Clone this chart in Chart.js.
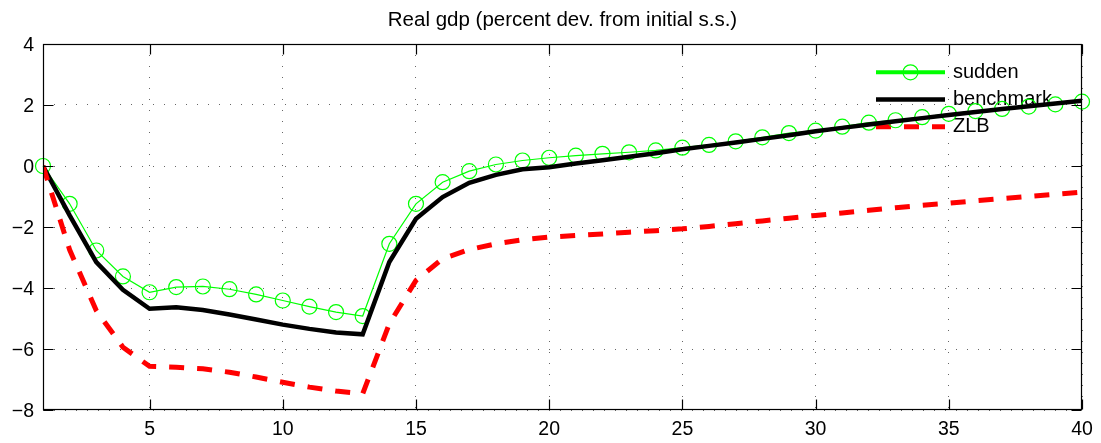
<!DOCTYPE html>
<html>
<head>
<meta charset="utf-8">
<title>Real gdp</title>
<script src="https://cdn.jsdelivr.net/npm/chart.js@4.4.1/dist/chart.umd.min.js"></script>
<style>
  html, body { margin: 0; padding: 0; background: #fff; }
  #wrap { width: 1101px; height: 443px; }
</style>
</head>
<body>
<div id="wrap"><canvas id="gdpChart" width="1101" height="443"></canvas></div>
<script>
// quarters after the shock
const periods = [1, 2, 3, 4, 5, 6, 7, 8, 9, 10, 11, 12, 13, 14, 15, 16, 17, 18, 19, 20,
  21, 22, 23, 24, 25, 26, 27, 28, 29, 30, 31, 32, 33, 34, 35, 36, 37, 38, 39, 40];

const sudden = [0, -1.24, -2.77, -3.62, -4.14, -3.97, -3.95, -4.04, -4.21, -4.41,
  -4.61, -4.79, -4.92, -2.55, -1.24, -0.53, -0.17, 0.05, 0.18, 0.27,
  0.34, 0.40, 0.45, 0.51, 0.60, 0.69, 0.81, 0.94, 1.08, 1.16,
  1.29, 1.42, 1.50, 1.60, 1.71, 1.80, 1.87, 1.95, 2.02, 2.11];

const benchmark = [0, -1.62, -3.15, -4.06, -4.68, -4.63, -4.72, -4.87, -5.03, -5.20,
  -5.34, -5.46, -5.52, -3.15, -1.73, -1.02, -0.55, -0.29, -0.11, -0.04,
  0.08, 0.19, 0.30, 0.42, 0.55, 0.66, 0.77, 0.89, 1.01, 1.14,
  1.25, 1.36, 1.47, 1.57, 1.67, 1.77, 1.87, 1.96, 2.05, 2.14];

const zlb = [0, -2.75, -4.74, -5.94, -6.57, -6.60, -6.65, -6.76, -6.92, -7.09,
  -7.25, -7.38, -7.47, -5.17, -3.75, -3.04, -2.74, -2.55, -2.42, -2.33,
  -2.28, -2.23, -2.17, -2.12, -2.06, -1.98, -1.89, -1.80, -1.71, -1.62,
  -1.54, -1.45, -1.37, -1.29, -1.22, -1.14, -1.07, -1.00, -0.93, -0.86];

const xTicks = [5, 10, 15, 20, 25, 30, 35, 40];
const yTicks = [-8, -6, -4, -2, 0, 2, 4];

const FONT = 'Liberation Sans, Arial, Helvetica, sans-serif';

function toPoints(values) {
  return periods.map((p, i) => ({ x: p, y: values[i] }));
}

// solid frame around the plot with inward tick marks on all four sides
const axesBox = {
  id: 'axesBox',
  afterDatasetsDraw(chart) {
    const { ctx, chartArea: a, scales: { x, y } } = chart;
    const L = Math.round(a.left) + 0.5, R = Math.round(a.right) - 0.5;
    const T = Math.round(a.top) + 0.5, B = Math.round(a.bottom) - 0.5;
    const len = 10;
    ctx.save();
    ctx.strokeStyle = '#000';
    ctx.lineWidth = 1.2;
    ctx.strokeRect(L, T, R - L, B - T);
    ctx.beginPath();
    xTicks.forEach(v => {
      const px = Math.round(x.getPixelForValue(v)) + 0.5;
      ctx.moveTo(px, B); ctx.lineTo(px, B - len);
      ctx.moveTo(px, T); ctx.lineTo(px, T + len);
    });
    yTicks.forEach(v => {
      const py = Math.round(y.getPixelForValue(v)) + 0.5;
      ctx.moveTo(L, py); ctx.lineTo(L + len, py);
      ctx.moveTo(R, py); ctx.lineTo(R - len, py);
    });
    ctx.stroke();
    ctx.restore();
  }
};

// legend: sample line (with marker) followed by the series name
const lineLegend = {
  id: 'lineLegend',
  beforeDatasetsDraw(chart) {
    const { ctx, chartArea: a } = chart;
    const x0 = a.right - 206, x1 = a.right - 137, tx = a.right - 129;
    ctx.save();
    chart.data.datasets.forEach((ds, i) => {
      const yy = a.top + 28.3 + i * 27.2;
      ctx.strokeStyle = ds.borderColor;
      ctx.lineWidth = Math.max(ds.borderWidth, 4);
      ctx.setLineDash(ds.borderDash || []);
      ctx.beginPath();
      ctx.moveTo(x0, yy);
      ctx.lineTo(x1, yy);
      ctx.stroke();
      ctx.setLineDash([]);
      if (ds.pointRadius > 0) {
        ctx.lineWidth = ds.pointBorderWidth;
        ctx.strokeStyle = ds.pointBorderColor;
        ctx.beginPath();
        ctx.arc((x0 + x1) / 2, yy, ds.pointRadius, 0, Math.PI * 2);
        ctx.stroke();
      }
      ctx.fillStyle = '#000';
      ctx.font = '20px ' + FONT;
      ctx.textAlign = 'left';
      ctx.textBaseline = 'middle';
      ctx.fillText(ds.label, tx, yy);
    });
    ctx.restore();
  }
};

const ctx = document.getElementById('gdpChart').getContext('2d');
const gdpChart = new Chart(ctx, {
  type: 'line',
  data: {
    datasets: [{
      label: 'sudden',
      data: toPoints(sudden),
      borderColor: '#00ff00',
      borderWidth: 1.2,
      pointRadius: 7.5,
      pointBorderWidth: 1.2,
      pointBorderColor: '#00ff00',
      pointBackgroundColor: 'rgba(0,0,0,0)',
      tension: 0,
      clip: false,
      order: 2
    }, {
      label: 'benchmark',
      data: toPoints(benchmark),
      borderColor: '#000000',
      borderWidth: 4.5,
      pointRadius: 0,
      tension: 0,
      order: 1
    }, {
      label: 'ZLB',
      data: toPoints(zlb),
      borderColor: '#ff0000',
      borderWidth: 5,
      borderDash: [15, 13],
      pointRadius: 0,
      tension: 0,
      order: 0
    }]
  },
  options: {
    responsive: false,
    animation: false,
    devicePixelRatio: 1,
    events: [],
    layout: { padding: { right: 19 } },
    scales: {
      x: {
        type: 'linear',
        min: 1,
        max: 40,
        afterBuildTicks: scale => { scale.ticks = xTicks.map(v => ({ value: v })); },
        afterFit: scale => { scale.height = 33; },
        grid: { color: '#666', lineWidth: 1, drawTicks: false },
        border: { display: false, dash: [1, 10] },
        ticks: {
          padding: 8,
          color: '#000',
          font: { family: FONT, size: 19.5 },
          maxRotation: 0
        }
      },
      y: {
        min: -8,
        max: 4,
        afterBuildTicks: scale => { scale.ticks = yTicks.map(v => ({ value: v })); },
        afterFit: scale => { scale.width = 43; },
        grid: { color: '#666', lineWidth: 1, drawTicks: false },
        border: { display: false, dash: [1, 10] },
        ticks: {
          padding: 9,
          labelOffset: 2,
          color: '#000',
          font: { family: FONT, size: 19.5 },
          callback: v => String(v).replace('-', '\u2212')
        }
      }
    },
    plugins: {
      legend: { display: false },
      tooltip: { enabled: false },
      title: {
        display: true,
        text: 'Real gdp (percent dev. from initial s.s.)',
        color: '#000',
        fullSize: false,
        font: { family: FONT, size: 20.5, weight: 'normal' },
        padding: { top: 8, bottom: 11.4 }
      }
    }
  },
  plugins: [axesBox, lineLegend]
});
</script>
</body>
</html>
